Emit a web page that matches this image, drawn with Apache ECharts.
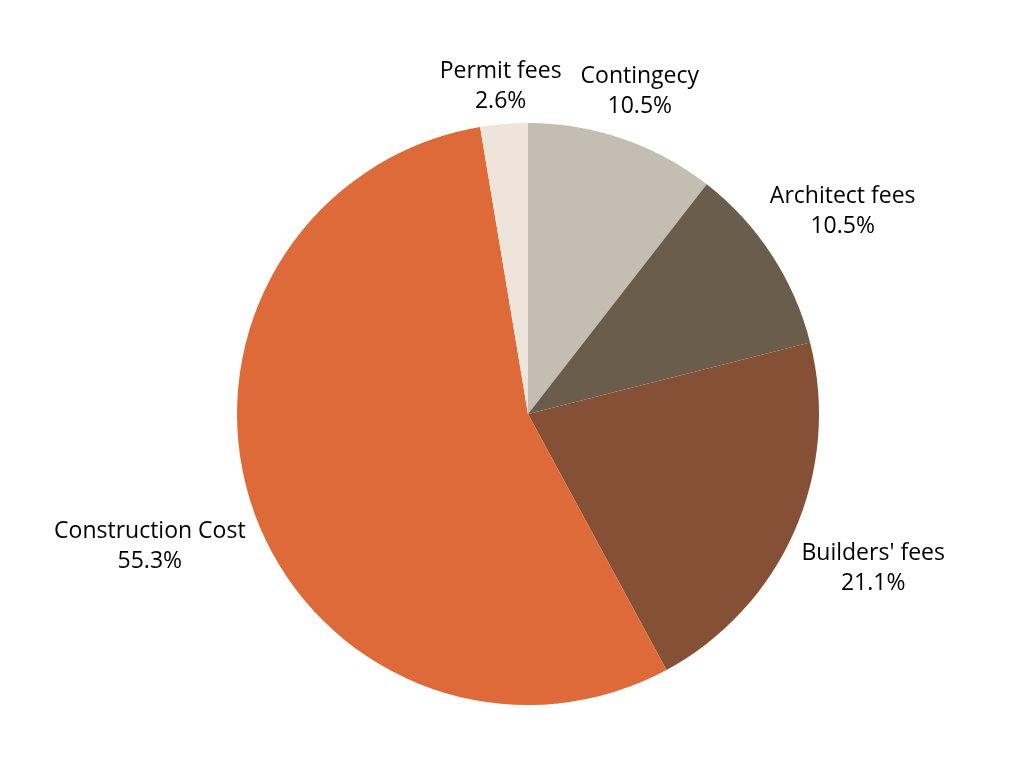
<!DOCTYPE html>
<html><head><meta charset="utf-8">
<script src="https://cdn.jsdelivr.net/npm/echarts@6/dist/echarts.min.js"></script>
<style>html,body{margin:0;padding:0;background:#fff}#c{width:1024px;height:768px}</style>
</head><body><div id="c"></div>
<script>
var categories = ["Contingecy", "Architect fees", "Builders' fees", "Construction Cost", "Permit fees"];
var values = [4, 4, 8, 21, 1];
var colors = ["#C4BDB1", "#6B5D4C", "#855035", "#DF6A39", "#EEE4DA"];

var CX = 528, CY = 414, R = 291, GAP = 10;
var total = values.reduce(function (a, b) { return a + b; }, 0);
var mids = [];
(function () {
  var acc = 0;
  for (var i = 0; i < values.length; i++) {
    mids.push((acc + values[i] / 2) / total * 2 * Math.PI);
    acc += values[i];
  }
})();

var chart = echarts.init(document.getElementById('c'));
chart.setOption({
  animation: false,
  series: [{
    type: 'pie',
    center: [CX, CY],
    radius: R,
    startAngle: 90,
    clockwise: true,
    data: categories.map(function (c, i) {
      return { name: c, value: values[i], itemStyle: { color: colors[i] } };
    }),
    label: {
      show: true,
      position: 'outside',
      formatter: function (p) { return p.name + '\n' + p.percent.toFixed(1) + '%'; },
      fontFamily: 'Open Sans',
      fontSize: 23,
      lineHeight: 30,
      color: '#000',
      align: 'center'
    },
    labelLine: { show: false },
    labelLayout: function (p) {
      var a = mids[p.dataIndex];
      var s = Math.sin(a), c = -Math.cos(a);
      var hw = p.labelRect.width / 2, hh = p.labelRect.height / 2 * 0.85;
      var d = R + GAP + Math.abs(hw * s) + Math.abs(hh * c);
      return { x: CX + s * d, y: CY + c * d + 3, align: 'center', verticalAlign: 'middle' };
    }
  }]
});
</script></body></html>
